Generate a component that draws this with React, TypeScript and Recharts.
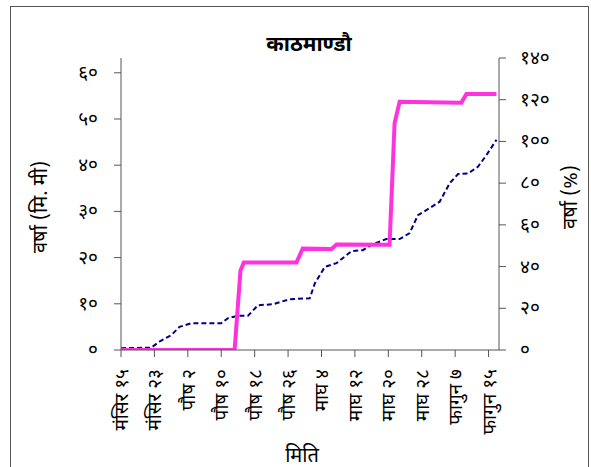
import { LineChart, Line, XAxis, YAxis } from 'recharts';

// day index 0 = मंसिर १५, one tick every 8 days
const dayTicks = [0, 8, 16, 24, 32, 40, 48, 56, 64, 72, 80, 88];
const dateLabels = [
  'मंसिर १५', 'मंसिर २३', 'पौष २', 'पौष १०', 'पौष १८', 'पौष २६',
  'माघ ४', 'माघ १२', 'माघ २०', 'माघ २८', 'फागुन ७', 'फागुन १५',
];

// cumulative rainfall (mm), left axis
const rainDays = [0, 7.2, 9.2, 12, 14, 16.8, 24, 25.6, 28, 30.4, 32.8, 36.4, 40.4, 45.2, 46.4, 48.8, 51.6, 55.2, 57.9, 60.3, 63.5, 66.7, 69.1, 71.1, 73.9, 76.3, 78.7, 80.7, 83.1, 85.5, 87.5, 89.9];
const rainMm = [0.4, 0.5, 1.8, 3.2, 5.0, 5.8, 5.8, 6.9, 7.4, 7.4, 9.7, 9.9, 11.0, 11.2, 14.4, 18.0, 18.8, 21.4, 21.6, 22.9, 24.0, 24.0, 25.3, 29.2, 30.7, 32.1, 36.1, 38.1, 38.2, 39.7, 42.2, 45.5];

// rainfall percent, right axis
const pctDays = [0, 27.2, 28.6, 29.4, 42, 43.5, 50.4, 51.6, 64.3, 65.5, 66.7, 81.5, 82.7, 89.9];
const pctValues = [0, 0, 38, 41.9, 41.9, 48.6, 48.4, 50.6, 50.5, 108.7, 119, 118.6, 122.7, 122.7];

const mmTicks = [0, 10, 20, 30, 40, 50, 60];
const pctTicks = [0, 20, 40, 60, 80, 100, 120, 140];

const rainData = rainDays.map((d, i) => ({ day: d, mm: rainMm[i] }));
const pctData = pctDays.map((d, i) => ({ day: d, pct: pctValues[i] }));

const DEV = '०१२३४५६७८९';
const toDev = (v: number | string) => String(v).replace(/[0-9]/g, (c) => DEV[Number(c)]);

const FONT = '"Noto Sans Devanagari", "Lohit Devanagari", "Noto Sans", sans-serif';
const AXIS = '#555';

const DateTick = ({ x, y, index }: any) => (
  <text
    x={x}
    y={y}
    transform={`rotate(-90 ${x} ${y})`}
    dx={-10}
    dy={7}
    textAnchor="end"
    fontSize={19}
    fill="#000"
    fontFamily={FONT}
  >
    {dateLabels[index]}
  </text>
);

const LeftTick = ({ x, y, payload }: any) => (
  <text x={x - 14} y={y} dy={6} textAnchor="end" fontSize={19} fill="#000" fontFamily={FONT}>
    {toDev(payload.value)}
  </text>
);

const RightTick = ({ x, y, payload }: any) => (
  <text x={x + 12} y={y} dy={6} textAnchor="start" fontSize={19} fill="#000" fontFamily={FONT}>
    {toDev(payload.value)}
  </text>
);

export default function App() {
  return (
    <div style={{ position: 'absolute', left: 0, top: 0, width: 591, height: 467, overflow: 'hidden', background: '#fff', fontFamily: FONT }}>
      <div style={{ position: 'absolute', left: 10, top: 6, width: 577, height: 500, border: '1px solid #555' }} />
      <div style={{ position: 'absolute', left: 0, top: 0 }}>
        <LineChart width={591} height={467} margin={{ top: 58, right: 32, bottom: 7, left: 61 }}>
          <XAxis
            xAxisId="x"
            type="number"
            dataKey="day"
            domain={[0, 90.5]}
            ticks={dayTicks}
            interval={0}
            height={110}
            tickSize={7}
            stroke={AXIS}
            tick={<DateTick />}
            allowDataOverflow
          />
          <YAxis
            yAxisId="mm"
            orientation="left"
            domain={[0, 63.2]}
            ticks={mmTicks}
            interval={0}
            width={60}
            tickSize={7}
            stroke={AXIS}
            tick={<LeftTick />}
            allowDataOverflow
          />
          <YAxis
            yAxisId="pct"
            orientation="right"
            domain={[0, 140]}
            ticks={pctTicks}
            interval={0}
            width={60}
            tickSize={7}
            stroke={AXIS}
            tick={<RightTick />}
            allowDataOverflow
          />
          <Line
            data={rainData}
            xAxisId="x"
            yAxisId="mm"
            dataKey="mm"
            type="linear"
            stroke="#000080"
            strokeWidth={2}
            strokeDasharray="5 3"
            dot={false}
            isAnimationActive={false}
          />
          <Line
            data={pctData}
            xAxisId="x"
            yAxisId="pct"
            dataKey="pct"
            type="linear"
            stroke="#ff33dd"
            strokeWidth={4}
            dot={false}
            isAnimationActive={false}
          />
        </LineChart>
      </div>
      <div style={{ position: 'absolute', left: 177, width: 264, top: 31, textAlign: 'center', fontSize: 21, fontWeight: 'bold', lineHeight: '30px' }}>
        काठमाण्डौ
      </div>
      <div style={{ position: 'absolute', left: 42, top: 207, transform: 'translate(-50%, -50%) rotate(-90deg)', whiteSpace: 'nowrap', fontSize: 20 }}>
        वर्षा (मि. मी)
      </div>
      <div style={{ position: 'absolute', left: 572, top: 197, transform: 'translate(-50%, -50%) rotate(-90deg)', whiteSpace: 'nowrap', fontSize: 20 }}>
        वर्षा (%)
      </div>
      <div style={{ position: 'absolute', left: 252, width: 100, top: 443, textAlign: 'center', fontSize: 20, lineHeight: '28px' }}>
        मिति
      </div>
    </div>
  );
}
